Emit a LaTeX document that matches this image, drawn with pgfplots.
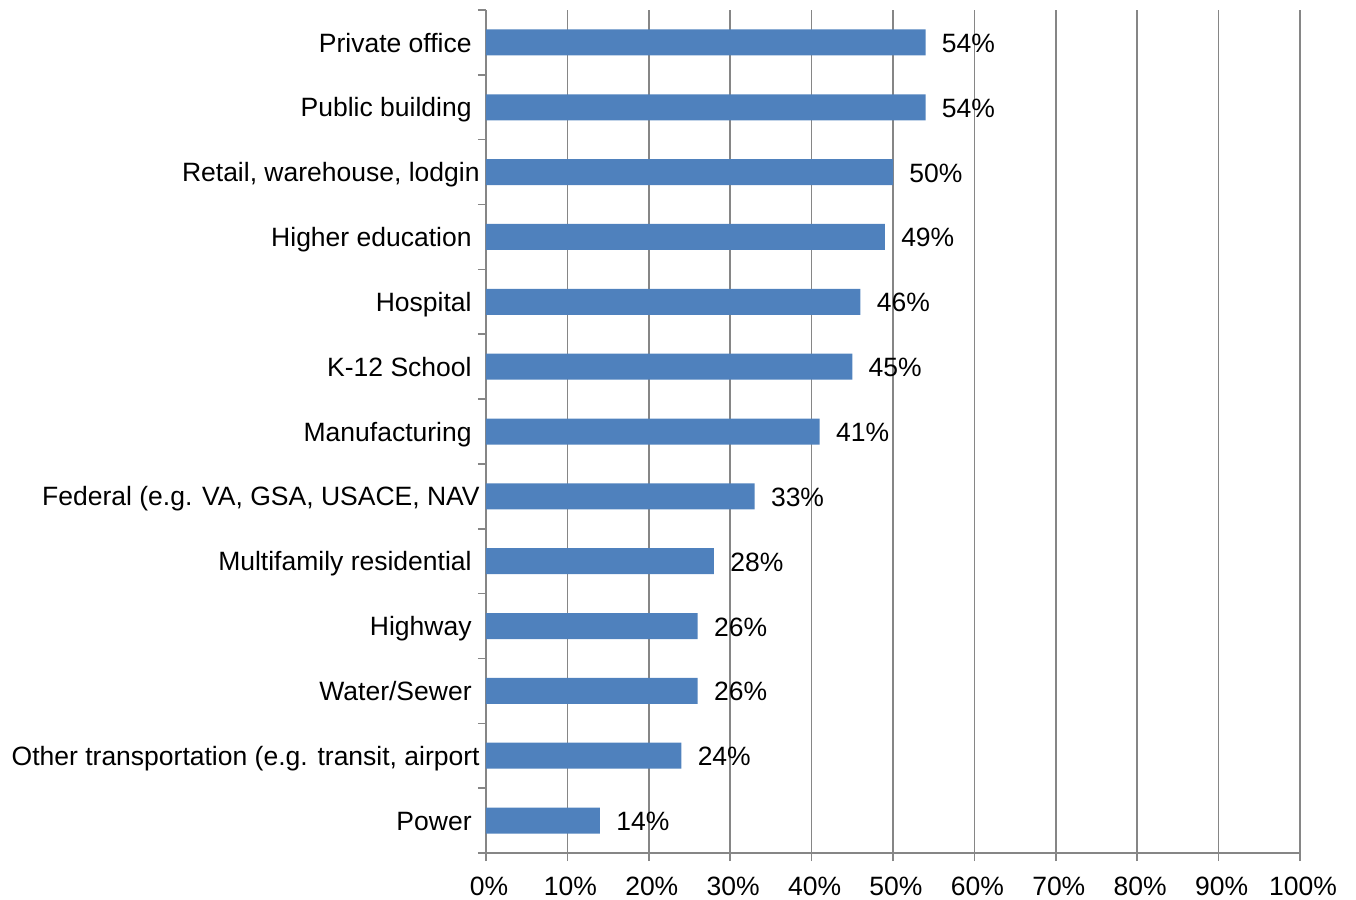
\documentclass[border=0pt]{standalone}
\usepackage{fontspec}
\setmainfont{Liberation Sans}
\usepackage{pgfplots}
\pgfplotsset{compat=1.18}
\definecolor{barblue}{HTML}{4F81BD}
\definecolor{gridgray}{HTML}{868686}
\newcommand{\lblfont}{\fontsize{13.25}{15.9}\selectfont}
\begin{document}
\lblfont
\begin{tikzpicture}
\path[use as bounding box] (0,0) rectangle (678pt,450pt);
\begin{axis}[
  at={(243pt,23.5pt)}, anchor=south west,
  scale only axis, width=407pt, height=421.5pt,
  xbar, bar width=13pt,
  xmin=0, xmax=100, ymin=-0.5, ymax=12.5, y dir=reverse,
  axis x line*=bottom, axis y line*=left,
  axis line style={gridgray, line width=0.75pt},
  xtick={0,10,...,100},
  xticklabel={\pgfmathprintnumber{\tick}\%},
  xmajorgrids, grid style={gridgray, line width=0.75pt},
  ytick={0,...,12},
  yticklabels={Private office, Public building, {Retail, warehouse, lodgin\kern-4pt}, Higher education, Hospital, K-12 School, Manufacturing, {Federal (e.g. VA, GSA, USACE, NAV\kern-4pt}, Multifamily residential, Highway, Water/Sewer, {Other transportation (e.g. transit, airport\kern-4pt}, Power},
  minor ytick={-0.5,0.5,...,12.5},
  tick align=outside,
  major tick length=4pt, minor tick length=4pt,
  major y tick style={draw=none},
  tick style={gridgray, line width=0.75pt},
  /pgf/number format/assume math mode=true,
  tick label style={font=\lblfont, text=black},
  yticklabel style={inner sep=0pt, anchor=base east, xshift=-3pt, yshift=-4.8pt},
  xticklabel style={inner sep=0pt, anchor=north, yshift=-8pt, xshift=1.5pt},
  point meta=x,
  nodes near coords={\pgfmathprintnumber{\pgfplotspointmeta}\%},
  nodes near coords style={anchor=base west, inner sep=0pt, xshift=8pt, yshift=-5pt, font=\lblfont, text=black},
]
\addplot[fill=barblue, draw=none] coordinates {
(54,0) (54,1) (50,2) (49,3) (46,4) (45,5) (41,6) (33,7) (28,8) (26,9) (26,10) (24,11) (14,12)
};
\end{axis}
\end{tikzpicture}
\end{document}
